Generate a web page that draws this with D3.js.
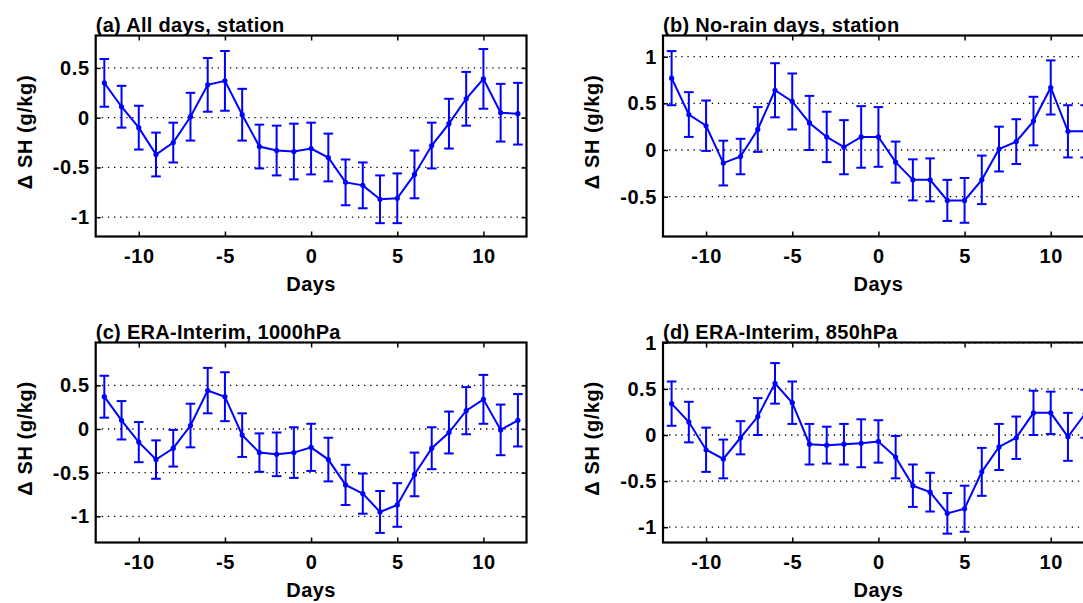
<!DOCTYPE html>
<meta charset="utf-8">
<body style="margin:0;background:#fff">
<div id="fig"></div>
<script src="https://d3js.org/d3.v7.min.js"></script>
<script>
// lag days and composite values (g/kg)
var days = [-12,-11,-10,-9,-8,-7,-6,-5,-4,-3,-2,-1,0,1,2,3,4,5,6,7,8,9,10,11,12];
var xTicks = [-10, -5, 0, 5, 10];

var meanA = [0.35,0.11,-0.10,-0.37,-0.25,0.01,0.33,0.37,0.03,-0.29,-0.33,-0.34,-0.31,-0.40,-0.65,-0.68,-0.82,-0.81,-0.57,-0.28,-0.06,0.19,0.39,0.05,0.04];
var errA  = [0.24,0.21,0.22,0.22,0.20,0.24,0.27,0.30,0.26,0.22,0.25,0.28,0.26,0.24,0.23,0.23,0.24,0.25,0.24,0.23,0.25,0.27,0.30,0.29,0.31];

var meanB = [0.77,0.38,0.26,-0.14,-0.07,0.22,0.64,0.52,0.29,0.14,0.03,0.14,0.14,-0.13,-0.32,-0.32,-0.54,-0.54,-0.32,0.01,0.09,0.31,0.67,0.20,0.20];
var errB  = [0.29,0.24,0.27,0.24,0.19,0.24,0.29,0.30,0.29,0.27,0.29,0.33,0.32,0.22,0.22,0.23,0.22,0.24,0.26,0.24,0.24,0.26,0.29,0.28,0.28];

var meanC = [0.37,0.10,-0.15,-0.35,-0.22,0.04,0.44,0.37,-0.07,-0.27,-0.29,-0.27,-0.21,-0.35,-0.64,-0.74,-0.95,-0.87,-0.52,-0.22,-0.04,0.21,0.34,-0.01,0.10];
var errC  = [0.24,0.22,0.23,0.22,0.21,0.25,0.26,0.28,0.25,0.22,0.25,0.29,0.27,0.25,0.23,0.23,0.24,0.25,0.25,0.24,0.24,0.27,0.28,0.29,0.30];

var meanD = [0.34,0.14,-0.16,-0.26,-0.03,0.20,0.56,0.35,-0.10,-0.11,-0.10,-0.09,-0.07,-0.24,-0.55,-0.62,-0.85,-0.80,-0.40,-0.13,-0.03,0.24,0.24,-0.02,0.23];
var errD  = [0.24,0.22,0.24,0.21,0.18,0.20,0.22,0.23,0.22,0.20,0.22,0.26,0.23,0.23,0.23,0.21,0.22,0.25,0.26,0.25,0.23,0.24,0.23,0.26,0.26];

var yTicksA = [-1, -0.5, 0, 0.5];
var yTicksB = [-0.5, 0, 0.5, 1];
var yTicksC = [-1, -0.5, 0, 0.5];
var yTicksD = [-1, -0.5, 0, 0.5, 1];

var titles = ["(a) All days, station", "(b) No-rain days, station",
              "(c) ERA-Interim, 1000hPa", "(d) ERA-Interim, 850hPa"];

var W = 1083, H = 603;
var font = "'Liberation Sans', Arial, sans-serif";

var svg = d3.select("#fig").append("svg")
  .attr("width", W)
  .attr("height", H)
  .style("font-family", font)
  .style("font-weight", "bold");

var panels = [
  {left: 95.7, top: 35.5, h: 201, ydom: [-1.194, 0.826], mean: meanA, err: errA, yt: yTicksA},
  {left: 663,  top: 35.5, h: 201, ydom: [-0.927, 1.227], mean: meanB, err: errB, yt: yTicksB},
  {left: 95.7, top: 342.5, h: 200, ydom: [-1.30, 0.991], mean: meanC, err: errC, yt: yTicksC},
  {left: 663,  top: 342.5, h: 200, ydom: [-1.166, 1.003], mean: meanD, err: errD, yt: yTicksD}
];
var pw = 430.8;

panels.forEach(function(p, k) {
  var g = svg.append("g")
    .attr("transform", "translate(" + p.left + "," + p.top + ")");

  var x = d3.scaleLinear().domain([-12.5, 12.5]).range([0, pw]);
  var y = d3.scaleLinear().domain(p.ydom).range([p.h, 0]);

  // dotted y grid
  g.selectAll(".grid")
    .data(p.yt)
    .enter().append("line")
    .attr("x1", 0).attr("x2", pw)
    .attr("y1", function(d) { return y(d); })
    .attr("y2", function(d) { return y(d); })
    .style("stroke", "#000")
    .style("stroke-width", 1.3)
    .style("stroke-dasharray", "1.3,4.8");

  // axes: labels on bottom/left, inward ticks on all sides
  var ax = g.append("g")
    .attr("transform", "translate(0," + p.h + ")")
    .call(d3.axisBottom(x).tickValues(xTicks).tickSize(-5).tickPadding(12)
      .tickFormat(function(d) { return String(d); }));
  ax.selectAll("text").attr("dy", "0.71em");
  g.append("g")
    .call(d3.axisTop(x).tickValues(xTicks).tickSize(-5).tickFormat(""));

  g.append("g")
    .call(d3.axisLeft(y).tickValues(p.yt).tickSize(-5).tickPadding(6)
      .tickFormat(function(d) { return String(d); }));
  g.append("g")
    .attr("transform", "translate(" + pw + ",0)")
    .call(d3.axisRight(y).tickValues(p.yt).tickSize(-5).tickFormat(""));

  g.selectAll(".domain").remove();
  g.selectAll(".tick line").style("stroke", "#000").style("stroke-width", 1.5);
  g.selectAll(".tick text")
    .style("fill", "#000")
    .style("font-family", font)
    .style("font-size", "20px")
    .style("letter-spacing", "0.6px");

  g.append("rect")
    .attr("x", 0).attr("y", 0)
    .attr("width", pw).attr("height", p.h)
    .style("fill", "none")
    .style("stroke", "#000")
    .style("stroke-width", 2.2);

  // error bars
  var eb = g.selectAll(".eb")
    .data(days)
    .enter().append("g");
  eb.append("line")
    .attr("x1", function(d) { return x(d); })
    .attr("x2", function(d) { return x(d); })
    .attr("y1", function(d, i) { return y(p.mean[i] + p.err[i]); })
    .attr("y2", function(d, i) { return y(p.mean[i] - p.err[i]); });
  eb.append("line")
    .attr("x1", function(d) { return x(d) - 4.8; })
    .attr("x2", function(d) { return x(d) + 4.8; })
    .attr("y1", function(d, i) { return y(p.mean[i] + p.err[i]); })
    .attr("y2", function(d, i) { return y(p.mean[i] + p.err[i]); });
  eb.append("line")
    .attr("x1", function(d) { return x(d) - 4.8; })
    .attr("x2", function(d) { return x(d) + 4.8; })
    .attr("y1", function(d, i) { return y(p.mean[i] - p.err[i]); })
    .attr("y2", function(d, i) { return y(p.mean[i] - p.err[i]); });
  eb.selectAll("line")
    .style("stroke", "#0000ff")
    .style("stroke-width", 2);

  var line = d3.line()
    .x(function(d) { return x(d); })
    .y(function(d, i) { return y(p.mean[i]); });
  g.append("path")
    .datum(days)
    .attr("d", line)
    .style("fill", "none")
    .style("stroke", "#0000ff")
    .style("stroke-width", 2);

  g.selectAll(".dot")
    .data(days)
    .enter().append("circle")
    .attr("cx", function(d) { return x(d); })
    .attr("cy", function(d, i) { return y(p.mean[i]); })
    .attr("r", 2.6)
    .style("fill", "#0000ff");

  // labels
  g.append("text")
    .attr("x", 0)
    .attr("y", -4)
    .style("font-size", "20px")
    .style("letter-spacing", "0.3px")
    .text(titles[k]);

  g.append("text")
    .attr("x", x(0))
    .attr("y", p.h + 54)
    .style("text-anchor", "middle")
    .style("font-size", "20px")
    .style("letter-spacing", "0.5px")
    .text("Days");

  g.append("text")
    .attr("transform", "rotate(-90)")
    .attr("x", -p.h / 2 + 4)
    .attr("y", -64)
    .style("text-anchor", "middle")
    .style("font-size", "20px")
    .style("letter-spacing", "0.6px")
    .text("\u0394 SH (g/kg)");
});
</script>
